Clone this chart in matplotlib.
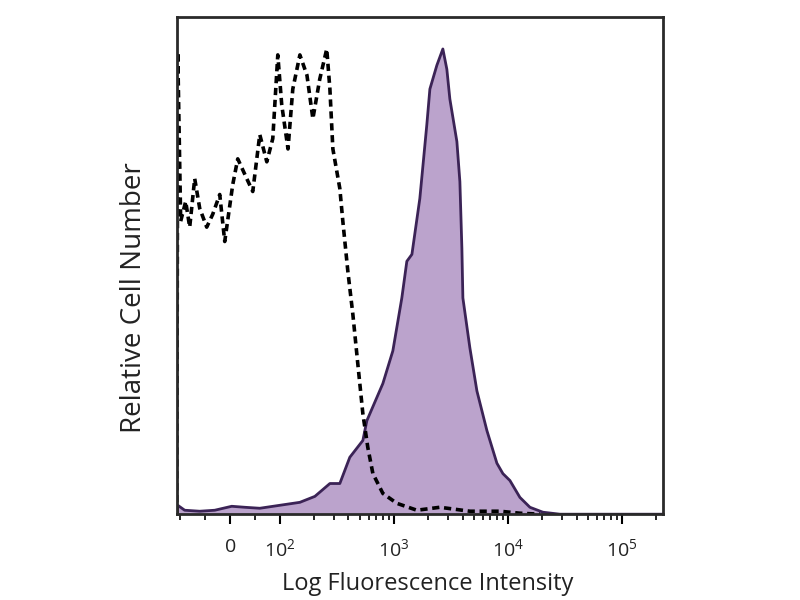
import numpy as np
import matplotlib
matplotlib.use('Agg')
import matplotlib.pyplot as plt

plt.rcParams['font.family'] = ['Open Sans', 'DejaVu Sans']
plt.rcParams['mathtext.fontset'] = 'custom'
plt.rcParams['mathtext.rm'] = 'Open Sans'
plt.rcParams['mathtext.it'] = 'Open Sans'

# stained sample (filled purple histogram)
stain_x = [-106, -104, -90, -60, -30, 4, 30, 60, 100, 150, 203, 275, 336, 411, 535, 580,
           801, 980, 1175, 1300, 1440, 1690, 1946, 2070, 2383, 2690, 2916, 3098, 3570,
           3793, 3950, 4030, 4642, 5350, 6545, 8010, 9040, 10420, 12740, 15600, 20280,
           28600, 230000]
stain_y = [0, 1.8, 0.8, 0.6, 0.8, 1.6, 1.4, 1.2, 1.8, 2.4, 3.6, 6.2, 6.2, 11.5, 14.9, 18.9,
           26.4, 33.0, 43.7, 51.1, 52.5, 63.8, 78.7, 85.9, 90.7, 94.0, 89.9, 83.9, 75.3,
           67.2, 53.7, 43.7, 33.6, 24.9, 16.9, 10.3, 8.2, 6.8, 3.4, 1.4, 0.4,
           0, 0]

# isotype control (dashed histogram)
ctrl_x = [-106, -104, -98, -88, -80, -70, -60, -46, -34, -20, -10, 6, 16, 34, 46, 60, 74,
          86, 96, 104, 118, 130, 150, 173, 195, 224, 258, 275, 292, 336, 357, 395, 437,
          483, 535, 591, 655, 801, 1062, 1592, 2535, 4642, 8515, 12740, 19090]
ctrl_y = [0, 93.4, 59.2, 63.2, 58.0, 67.8, 61.8, 58.0, 60.6, 64.6, 55.1, 66.6, 71.8, 67.8,
          65.2, 76.7, 71.2, 75.9, 92.8, 82.7, 73.8, 85.9, 92.8, 88.7, 79.9, 87.9, 94.0,
          85.9, 73.8, 65.8, 59.2, 49.1, 40.4, 30.4, 20.3, 13.5, 8.2, 4.2, 2.2, 0.8, 1.4,
          0.6, 0.6, 0.2, 0]

major_ticks = [0, 1e2, 1e3, 1e4, 1e5]
major_labels = ['$0$', '$10^2$', '$10^3$', '$10^4$', '$10^5$']

fig = plt.figure(figsize=(8, 6), dpi=100)
ax = fig.add_axes([0.221, 0.143, 0.608, 0.829])

ax.fill_between(stain_x, stain_y, 0, color='#bba3cc', linewidth=0)
ax.plot(stain_x, stain_y, color='#3b2356', linewidth=2)
ax.plot(ctrl_x, ctrl_y, color='black', linewidth=2.6, linestyle=(0, (2, 1.3)))

ax.set_xscale('symlog', linthresh=100, linscale=0.395)
ax.set_xlim(-106, 2.3e5)
ax.set_ylim(0, 100.5)

ax.set_xticks(major_ticks)
ax.set_xticklabels(major_labels, fontsize=14, color='#222222')
minor = [-100, -50, 50] + [k * 10 ** d for d in range(2, 5) for k in range(2, 10)] + [2e5]
ax.set_xticks(minor, minor=True)
ax.tick_params(axis='x', which='major', direction='out', length=7, width=1.5, pad=10)
ax.tick_params(axis='x', which='minor', direction='out', length=4, width=1.2)
ax.set_yticks([])

for s in ax.spines.values():
    s.set_linewidth(2)
    s.set_color('#2a2a2a')

ax.set_xlabel('Log Fluorescence Intensity', fontsize=17, color='#222222')
ax.xaxis.set_label_coords(0.515, -0.116)
ax.set_ylabel('Relative Cell Number', fontsize=20, color='#222222')
ax.yaxis.set_label_coords(-0.06, 0.435)

fig.savefig('out.png', dpi=100)
